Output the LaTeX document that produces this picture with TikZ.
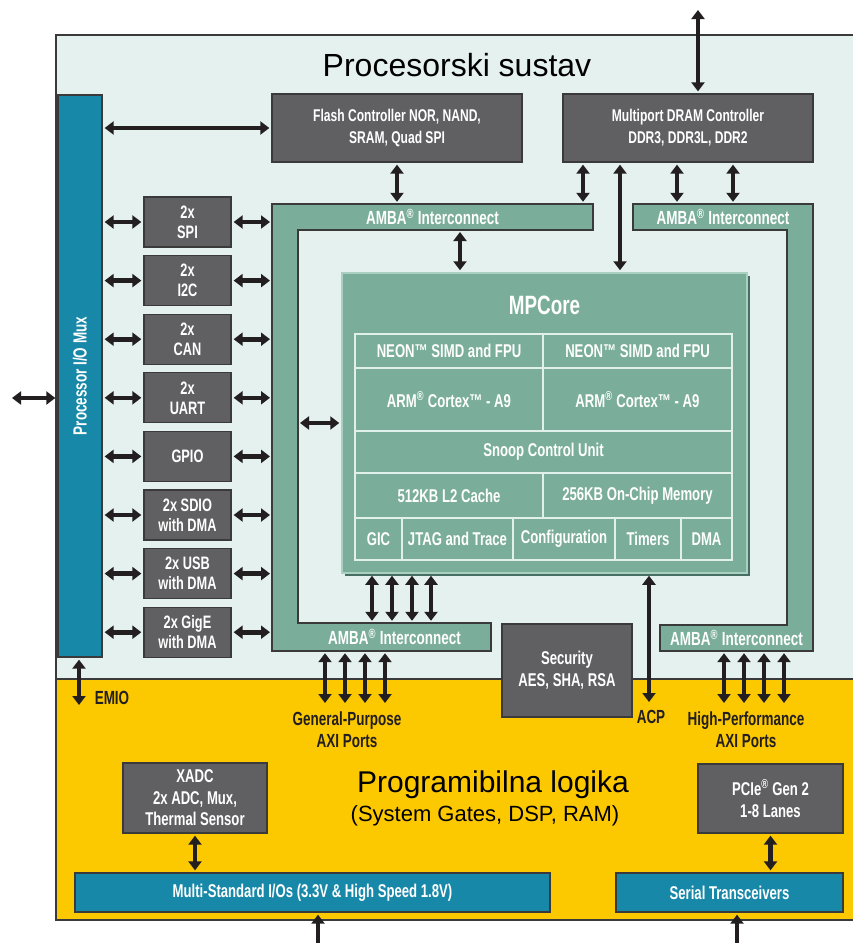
\documentclass[tikz,border=0pt]{standalone}
\usepackage{fontspec}
\setmainfont{Liberation Sans}
\newfontfamily\cnd{Liberation Sans}[FakeStretch=0.71]
\usetikzlibrary{arrows.meta}
\definecolor{bgl}{RGB}{229,241,238}
\definecolor{yel}{RGB}{252,200,0}
\definecolor{tealc}{RGB}{122,174,155}
\definecolor{tealdk}{RGB}{70,110,98}
\definecolor{teallt}{RGB}{170,208,194}
\definecolor{dgray}{RGB}{96,96,98}
\definecolor{iob}{RGB}{24,136,168}
\definecolor{arrc}{RGB}{35,31,32}
\definecolor{bdr}{RGB}{58,58,58}
\definecolor{celll}{RGB}{225,240,234}
\newcommand\fsz[2]{\fontsize{#1}{#2}\selectfont}
\newcommand\regm{\textsuperscript{®}}
\tikzset{
  dbox/.style={draw=bdr, line width=1.3pt, fill=dgray, text=white, align=center, inner sep=0pt, font=\cnd\bfseries\fsz{17.5}{21}},
  pbox/.style={dbox, minimum width=87pt, minimum height=50pt, font=\cnd\bfseries\fsz{18}{20}},
  bbox/.style={draw=bdr, line width=1.3pt, fill=iob, text=white, align=center, inner sep=0pt, font=\cnd\bfseries\fsz{18.5}{21}},
  frame/.style={draw=bdr, line width=1.3pt, fill=tealc},
  alab/.style={text=white, inner sep=0pt, font=\cnd\bfseries\fsz{19}{21}},
  cell/.style={draw=celll, line width=1.5pt, fill=tealc, text=white, inner sep=0pt, font=\cnd\bfseries\fsz{18.5}{21}},
  dlab/.style={text=arrc, align=center, inner sep=0pt, font=\cnd\bfseries\fsz{19}{22}},
  arr/.style={draw=arrc, line width=4.6pt, {Triangle[width=13pt,length=9pt]}-{Triangle[width=13pt,length=9pt]}, shorten <=2pt, shorten >=2pt},
  bigt/.style={text=black, inner sep=0pt, anchor=base, font=\fsz{32}{36}}
}
\begin{document}
\begin{tikzpicture}[x=1pt,y=-1pt]
\useasboundingbox (0,0) rectangle (853,943);
% regions
\path[fill=bgl, draw=bdr, line width=1.3pt] (56,35) rectangle (875,679);
\path[fill=yel, draw=bdr, line width=1.3pt] (56,679) rectangle (875,920);
\node[bigt] (pstitle) at (457,76) {Procesorski sustav};
\node[bigt, font=\fsz{30}{34}] (pltitle) at (493,792) {Programibilna logika};
\node[bigt, font=\fsz{22}{26}] (plsub) at (485,821) {(System Gates, DSP, RAM)};
% processor I/O mux
\node[bbox, minimum width=44pt, minimum height=562pt] (mux) at (80,376) {};
\node[text=white, rotate=90, inner sep=0pt, font=\cnd\bfseries\fsz{19}{21}] (muxlab) at (mux.center) {Processor I/O Mux};
% top controllers
\node[dbox, minimum width=250pt, minimum height=68pt, font=\cnd\bfseries\fsz{17}{22}] (flash) at (397,128) {Flash Controller NOR, NAND,\\SRAM, Quad SPI};
\node[dbox, minimum width=250pt, minimum height=68pt, font=\cnd\bfseries\fsz{17}{22}] (dram) at (688,128) {Multiport DRAM Controller\\DDR3, DDR3L, DDR2};
% AMBA frames
\path[frame] (272,204) -- (593,204) -- (593,230) -- (298,230) -- (298,623) -- (491,623) -- (491,651) -- (272,651) -- cycle;
\path[frame] (633,204) -- (813,204) -- (813,651) -- (660,651) -- (660,625) -- (787,625) -- (787,230) -- (633,230) -- cycle;
\node[alab, minimum width=321pt, minimum height=26pt] (ambaTL) at (432.5,217) {AMBA\regm\ Interconnect};
\node[alab, minimum width=193pt, minimum height=28pt] (ambaBL) at (394.5,637) {AMBA\regm\ Interconnect};
\node[alab, minimum width=180pt, minimum height=26pt] (ambaTR) at (723,217) {AMBA\regm\ Interconnect};
\node[alab, minimum width=153pt, minimum height=26pt] (ambaBR) at (736.5,638) {AMBA\regm\ Interconnect};
\coordinate (ambaL) at (272,0);
\coordinate (ambaLv) at (298,423);
% MPCore
\fill[tealdk] (345,276) rectangle (750,576);
\node[draw=teallt, line width=1.5pt, fill=tealc, minimum width=405pt, minimum height=300pt, inner sep=0pt] (mpcore) at (544.5,423) {};
\node[text=white, inner sep=0pt, font=\cnd\bfseries\fsz{26.5}{28}] (mptitle) at (544.5,305) {MPCore};
\node[cell, minimum width=188pt, minimum height=34pt] (neon1) at (449,351) {NEON™ SIMD and FPU};
\node[cell, minimum width=189pt, minimum height=34pt] (neon2) at (637.5,351) {NEON™ SIMD and FPU};
\node[cell, minimum width=188pt, minimum height=63pt] (arm1) at (449,399.5) {ARM\regm\ Cortex™ - A9};
\node[cell, minimum width=189pt, minimum height=63pt] (arm2) at (637.5,399.5) {ARM\regm\ Cortex™ - A9};
\node[cell, minimum width=377pt, minimum height=42pt] (scu) at (543.5,452) {Snoop Control Unit};
\node[cell, minimum width=188pt, minimum height=45pt] (l2) at (449,495.5) {512KB L2 Cache};
\node[cell, minimum width=189pt, minimum height=45pt] (ocm) at (637.5,495.5) {256KB On-Chip Memory};
\node[cell, minimum width=47pt, minimum height=42pt] (gic) at (378.5,539) {GIC};
\node[cell, minimum width=111pt, minimum height=42pt] (jtag) at (457.5,539) {JTAG and Trace};
\node[cell, minimum width=102pt, minimum height=42pt] (cfg) at (564,539) {Configuration};
\node[cell, minimum width=66pt, minimum height=42pt] (tmr) at (648,539) {Timers};
\node[cell, minimum width=51pt, minimum height=42pt] (dma) at (706.5,539) {DMA};
% peripherals
\foreach \n/\t/\yy in {spi/{2x\\SPI}/222, i2c/{2x\\I2C}/280.6, can/{2x\\CAN}/339.2, uart/{2x\\UART}/397.8, gpio/{GPIO}/456.4, sdio/{2x SDIO\\with DMA}/515, usb/{2x USB\\with DMA}/573.6, gige/{2x GigE\\with DMA}/632.2}{
  \node[pbox] (\n) at (187.5,\yy) {\t};
  \draw[arr] (\n.west -| mux.east) -- (\n.west);
  \draw[arr] (\n.east) -- (\n.east -| ambaL);
}
% security
\node[dbox, minimum width=130pt, minimum height=93pt, font=\cnd\bfseries\fsz{18.5}{22}] (sec) at (567,670.5) {Security\\AES, SHA, RSA};
% PL blocks
\node[dbox, minimum width=144pt, minimum height=70pt, font=\cnd\bfseries\fsz{18.5}{21.5}] (xadc) at (195,798) {XADC\\2x ADC, Mux,\\Thermal Sensor};
\node[dbox, minimum width=145pt, minimum height=69pt, font=\cnd\bfseries\fsz{18.5}{22}] (pcie) at (770.5,798.5) {PCIe\regm\ Gen 2\\1-8 Lanes};
\node[bbox, minimum width=475pt, minimum height=39pt] (mio) at (312.5,892.5) {Multi-Standard I/Os (3.3V \& High Speed 1.8V)};
\node[bbox, minimum width=227pt, minimum height=39pt] (serial) at (729.5,892.5) {Serial Transceivers};
% labels
\node[dlab] (emiol) at (112,698) {EMIO};
\node[dlab] (gpl) at (347,730) {General-Purpose\\AXI Ports};
\node[dlab] (acpl) at (651,717) {ACP};
\node[dlab] (hpl) at (746,730) {High-Performance\\AXI Ports};
% arrows
\coordinate (ext) at (10,398);
\draw[arr] (ext) -- (ext -| mux.west);
\draw[arr] (flash.west -| mux.east) -- (flash.west);
\draw[arr] (flash.south) -- (flash.south |- ambaTL.north);
\coordinate (dtop) at (698,8);
\draw[arr] (dtop) -- (dtop |- dram.north);
\coordinate (d1) at ([xshift=-105pt]dram.south);
\coordinate (d2) at ([xshift=-68pt]dram.south);
\coordinate (d3) at ([xshift=-11pt]dram.south);
\coordinate (d4) at ([xshift=45pt]dram.south);
\draw[arr] (d1) -- (d1 |- ambaTL.north);
\draw[arr] (d2) -- (d2 |- mpcore.north);
\draw[arr] (d3) -- (d3 |- ambaTR.north);
\draw[arr] (d4) -- (d4 |- ambaTR.north);
\coordinate (a1) at (460,230);
\draw[arr] (a1) -- (a1 |- mpcore.north);
\draw[arr] (ambaLv) -- (ambaLv -| mpcore.west);
\foreach \x in {372,392,412,431}{
  \draw[arr] (mpcore.south -| \x,0) -- (ambaBL.north -| \x,0);
}
\coordinate (acp) at (649,704);
\draw[arr] (acp |- mpcore.south) -- (acp);
\foreach \x in {325,345,365,385}{
  \coordinate (gp\x) at (\x,705);
  \draw[arr] (ambaBL.south -| gp\x) -- (gp\x);
}
\foreach \x in {724,744,764,784}{
  \coordinate (hp\x) at (\x,705);
  \draw[arr] (ambaBR.south -| hp\x) -- (hp\x);
}
\coordinate (emio) at (79,707);
\draw[arr] (emio |- mux.south) -- (emio);
\draw[arr] (xadc.south) -- (xadc.south |- mio.north);
\draw[arr] (pcie.south) -- (pcie.south |- serial.north);
\coordinate (mb) at (318,962);
\draw[arr] (mb |- mio.south) -- (mb);
\coordinate (sb) at (737,962);
\draw[arr] (sb |- serial.south) -- (sb);
\end{tikzpicture}
\end{document}
